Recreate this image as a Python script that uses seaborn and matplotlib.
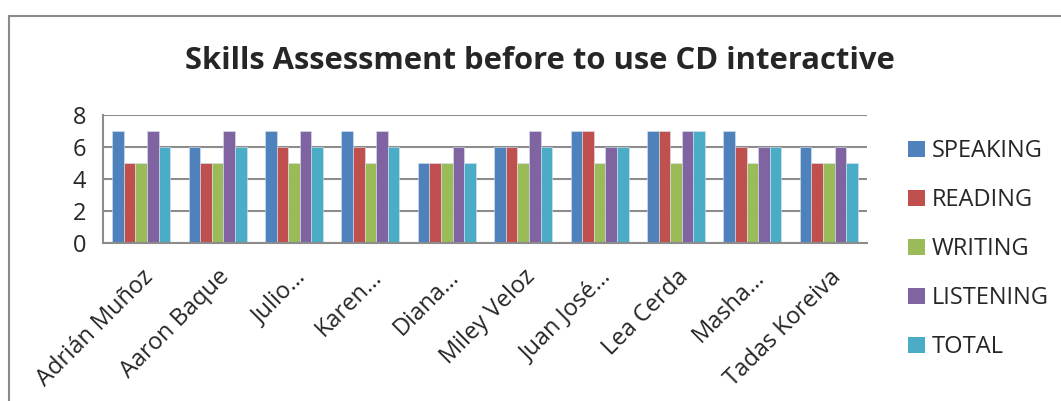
import matplotlib
matplotlib.use("Agg")
import matplotlib.pyplot as plt
from matplotlib.patches import Rectangle, Patch
import seaborn as sns
import pandas as pd

students = ["Adrián Muñoz", "Aaron Baque", "Julio…", "Karen…", "Diana…",
            "Miley Veloz", "Juan José…", "Lea Cerda", "Masha…", "Tadas Koreiva"]
skills = ["SPEAKING", "READING", "WRITING", "LISTENING", "TOTAL"]
speaking = [7, 6, 7, 7, 5, 6, 7, 7, 7, 6]
reading = [5, 5, 6, 6, 5, 6, 7, 7, 6, 5]
writing = [5, 5, 5, 5, 5, 5, 5, 5, 5, 5]
listening = [7, 7, 7, 7, 6, 7, 6, 7, 6, 6]
total = [6, 6, 6, 6, 5, 6, 6, 7, 6, 5]
yticks = [0, 2, 4, 6, 8]

colors = ["#4F81BD", "#C0504D", "#9BBB59", "#8064A2", "#4BACC6"]

rows = []
for skill, vals in zip(skills, [speaking, reading, writing, listening, total]):
    for name, v in zip(students, vals):
        rows.append({"student": name, "skill": skill, "score": v})
df = pd.DataFrame(rows)

sns.set_theme(style="white")
plt.rcParams["font.family"] = ["Open Sans", "DejaVu Sans"]

W, H = 1061, 401
fig = plt.figure(figsize=(W / 100, H / 100), dpi=100)
ax = fig.add_axes([103 / W, 1 - 243 / H, (867 - 103) / W, (243 - 115) / H])

sns.barplot(data=df, x="student", y="score", hue="skill", hue_order=skills,
            order=students, palette=colors, width=0.76, saturation=1,
            edgecolor="#d8e4f0", linewidth=0.4, ax=ax, legend=False)

ax.set_ylim(0, 8)
ax.set_yticks(yticks)
ax.set_xlim(-0.5, len(students) - 0.5)
ax.yaxis.grid(True, color="#8c8c8c", linewidth=1.5)
ax.set_axisbelow(True)
ax.set_xlabel("")
ax.set_ylabel("")
for side in ["top", "right"]:
    ax.spines[side].set_visible(False)
for side in ["left", "bottom"]:
    ax.spines[side].set_color("#8c8c8c")
    ax.spines[side].set_linewidth(1.5)
ax.tick_params(axis="y", length=0, pad=12, labelsize=17)
ax.tick_params(axis="x", length=0, pad=16, labelsize=17)
plt.setp(ax.get_xticklabels(), rotation=45, ha="right", rotation_mode="anchor")

fig.text(540 / W, 1 - 61 / H, "Skills Assessment before to use CD interactive",
         ha="center", va="center", fontsize=22.3, fontweight="bold")

handles = [Patch(facecolor=c, edgecolor="none") for c in colors]
fig.legend(handles, skills, loc="center left",
           bbox_to_anchor=(899 / W, 1 - 249 / H), frameon=False,
           fontsize=17, handlelength=0.68, handleheight=0.68,
           handletextpad=0.3, labelspacing=1.06, borderaxespad=0)

fig.patches.append(Rectangle((8.5 / W, -0.1), 1.2, 1 - 16 / H + 0.1,
                             transform=fig.transFigure, fill=False,
                             edgecolor="#8a8a8a", linewidth=1.5))

fig.savefig("out.png", dpi=100)
